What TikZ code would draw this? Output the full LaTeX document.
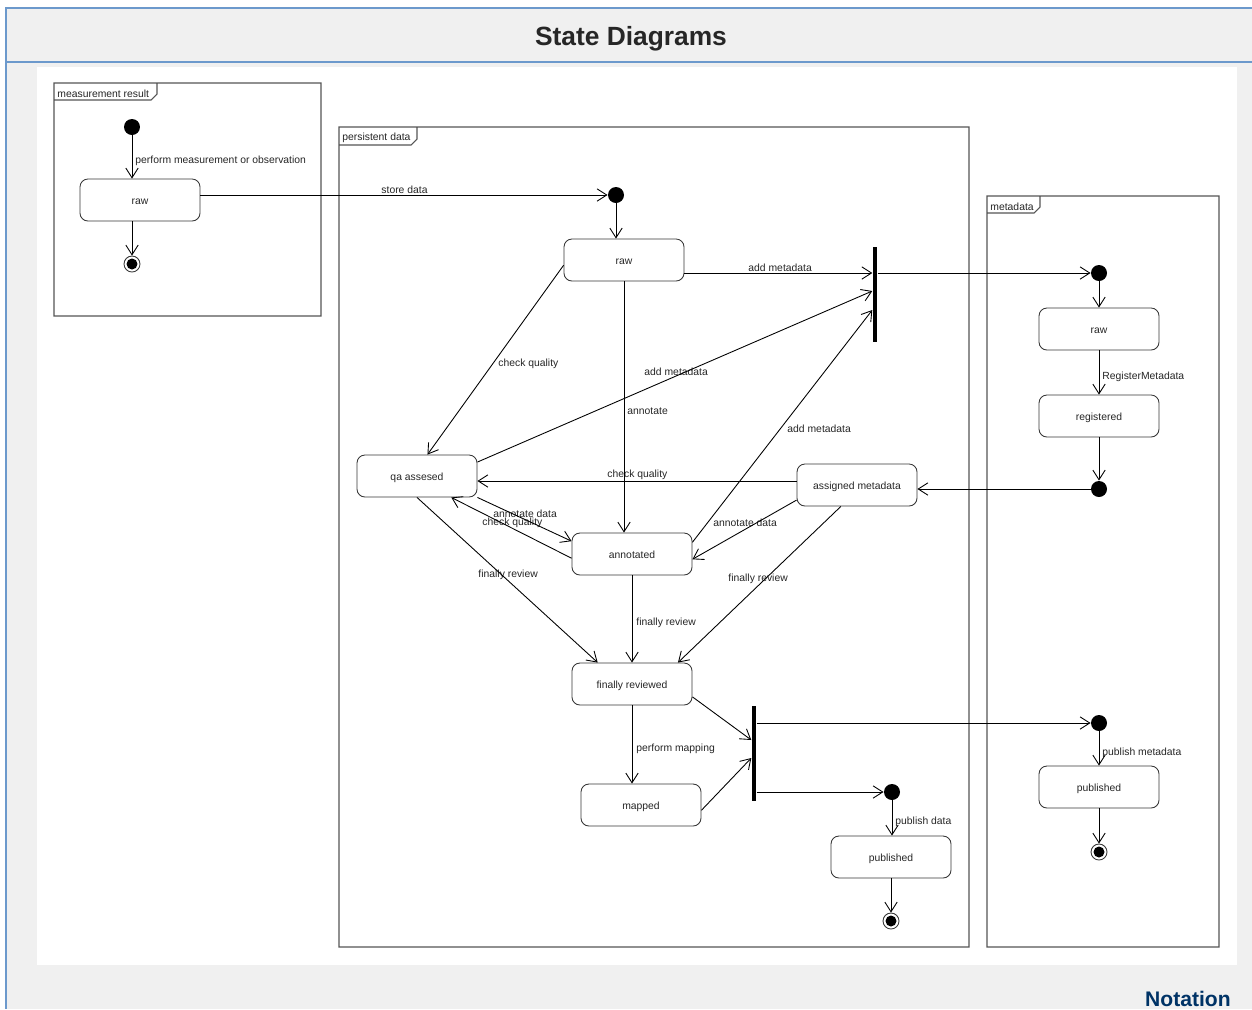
\documentclass[tikz,border=0pt]{standalone}
\usepackage{fontspec}
\setmainfont{Liberation Sans}
\usetikzlibrary{arrows.meta}

\definecolor{pagegray}{RGB}{240,240,240}
\definecolor{rulerblue}{RGB}{108,153,204}
\definecolor{linegray}{RGB}{55,55,55}
\definecolor{framegray}{RGB}{85,85,85}
\definecolor{notationblue}{RGB}{0,51,102}

\begin{document}
\begin{tikzpicture}[x = 0.02cm, y = -0.02cm,
	>={Straight Barb[length = 5.5pt, width = 7pt]},
	every node/.style = {font = \fontsize{5.9}{7}\selectfont, text = black!85},
	every path/.style = {line width = 0.5pt},
	state/.style = {rectangle, rounded corners = 4.5pt, draw = linegray, fill = white, minimum width = 2.4cm, minimum height = 0.84cm, inner sep = 0pt, text height = 6pt, text depth = 0.8pt},
	initial/.style = {circle, fill = black, minimum size = 0.32cm, inner sep = 0pt},
	final/.style = {circle, draw = linegray, fill = white, minimum size = 0.32cm, inner sep = 0pt, path picture = {\fill[black] (path picture bounding box.center) circle (0.11cm);}},
	bar/.style = {rectangle, fill = black, minimum width = 0.09cm, minimum height = 1.9cm, inner sep = 0pt},
	frame/.style = {draw = framegray, line width = 0.6pt},
	tab/.style = {anchor = west, inner sep = 0pt, yshift = -0.8pt},
	lbl/.style = {anchor = west, inner sep = 0pt, yshift = -0.8pt}]
\useasboundingbox (0, 0) rectangle (1252, 1009);

\fill[pagegray]	(6, 8) rectangle (1252, 1009);
\fill[white]	(37, 67) rectangle (1237, 965);
\draw[rulerblue, line width = 1.2pt]	(1252, 8) -- (6, 8) -- (6, 1009)	(6, 62) -- (1252, 62);

\path	(631, 39)		node(title)		[font = \fontsize{15}{18}\selectfont\bfseries]							{State Diagrams}
		(1237, 1006)	node(notation)	[anchor = base east, text = notationblue, font = \fontsize{12}{14}\selectfont\bfseries]	{Notation};

\draw[frame]	(54, 83) rectangle (321, 316)		(54, 100) -- (151, 100) -- (157, 94) -- (157, 83);
\draw[frame]	(339, 127) rectangle (969, 947)	(339, 145) -- (411, 145) -- (417, 139) -- (417, 127);
\draw[frame]	(987, 196) rectangle (1219, 947)	(987, 213) -- (1034, 213) -- (1040, 207) -- (1040, 196);

\path	(57, 92)	node(measurement_tab)	[tab]	{measurement result}
		(342, 136)	node(persistent_tab)	[tab]	{persistent data}
		(990, 205)	node(metadata_tab)		[tab]	{metadata};

\path	(132, 127)	node(mr_initial)		[initial]	{}
		(140, 200)	node(mr_raw)			[state]		{raw}
		(132, 264)	node(mr_final)			[final]		{}
		(616, 195)	node(pd_initial)		[initial]	{}
		(624, 260)	node(pd_raw)			[state]		{raw}
		(417, 476)	node(qa_assesed)		[state]		{qa assesed}
		(632, 554)	node(annotated)			[state]		{annotated}
		(857, 485)	node(assigned_metadata)	[state]		{assigned metadata}
		(632, 684)	node(finally_reviewed)	[state]		{finally reviewed}
		(641, 805)	node(mapped)			[state]		{mapped}
		(892, 792)	node(pd_publish_start)	[initial]	{}
		(891, 857)	node(pd_published)		[state]		{published}
		(891, 921)	node(pd_final)			[final]		{}
		(875, 294)	node(fork_metadata)		[bar]		{}
		(754, 753)	node(fork_publish)		[bar]		{}
		(1099, 273)	node(md_initial)		[initial]	{}
		(1099, 329)	node(md_raw)			[state]		{raw}
		(1099, 416)	node(registered)		[state]		{registered}
		(1099, 489)	node(md_junction)		[initial]	{}
		(1099, 723)	node(md_publish_start)	[initial]	{}
		(1099, 787)	node(md_published)		[state]		{published}
		(1099, 852)	node(md_final)			[final]		{};

\path	(135, 159)	node(lbl_measure)		[lbl]	{perform measurement or observation}
		(381, 188)	node(lbl_store)			[lbl]	{store data}
		(748, 266)	node(lbl_raw_meta)		[lbl]	{add metadata}
		(498, 362)	node(lbl_raw_qa)		[lbl]	{check quality}
		(644, 370)	node(lbl_qa_meta)		[lbl]	{add metadata}
		(627, 410)	node(lbl_annotate)		[lbl]	{annotate}
		(787, 427)	node(lbl_annot_meta)	[lbl]	{add metadata}
		(607, 473)	node(lbl_assigned_qa)	[lbl]	{check quality}
		(493, 512)	node(lbl_qa_annot)		[lbl]	{annotate data}
		(482, 521)	node(lbl_annot_qa)		[lbl]	{check quality}
		(713, 521)	node(lbl_assigned_annot)	[lbl]	{annotate data}
		(478, 573)	node(lbl_qa_final)		[lbl]	{finally review}
		(728, 577)	node(lbl_assigned_final)	[lbl]	{finally review}
		(636, 621)	node(lbl_annot_final)	[lbl]	{finally review}
		(636, 747)	node(lbl_mapping)		[lbl]	{perform mapping}
		(895, 820)	node(lbl_publish_data)	[lbl]	{publish data}
		(1102, 375)	node(lbl_register)		[lbl]	{RegisterMetadata}
		(1102, 751)	node(lbl_publish_meta)	[lbl]	{publish metadata};

\draw[->]	(mr_initial)				--	(mr_initial |- mr_raw.north);
\draw[->]	(mr_raw.south -| mr_initial)	--	(mr_final);
\draw[->]	(mr_raw.east |- pd_initial)	--	(pd_initial);

\draw[->]	(pd_initial)				--	(pd_initial |- pd_raw.north);
\draw[->]	(pd_raw.east |- 0, 273)		--	(fork_metadata.west |- 0, 273);
\draw[->]	(pd_raw.185)				--	(qa_assesed.64);
\draw[->]	(pd_raw.south)				--	(pd_raw.south |- annotated.north);
\draw[->]	(qa_assesed.13)				--	(fork_metadata.west |- 0, 291);
\draw[->]	(annotated.11)				--	(fork_metadata.west |- 0, 310);
\draw[->]	(assigned_metadata.west |- 0, 481)	--	(qa_assesed.east |- 0, 481);
\draw[->]	(qa_assesed.south east)		--	(annotated.168);
\draw[->]	(annotated.184)				--	(qa_assesed.328);
\draw[->]	(assigned_metadata.194)		--	(annotated.355);
\draw[->]	(qa_assesed.south)			--	(finally_reviewed.148);
\draw[->]	(annotated.south)			--	(finally_reviewed.north);
\draw[->]	(assigned_metadata.233)		--	(finally_reviewed.25);
\draw[->]	(finally_reviewed.south)	--	(finally_reviewed.south |- mapped.north);
\draw[->]	(finally_reviewed.348)		--	(fork_publish.west |- 0, 740);
\draw[->]	(mapped.355)				--	(fork_publish.west |- 0, 758);
\draw[->]	(fork_publish.east |- pd_publish_start)	--	(pd_publish_start);
\draw[->]	(pd_publish_start)			--	(pd_published.north -| pd_publish_start);
\draw[->]	(pd_published.south)		--	(pd_final);

\draw[->]	(fork_metadata.east |- md_initial)	--	(md_initial);
\draw[->]	(md_initial)				--	(md_raw);
\draw[->]	(md_raw)					--	(registered);
\draw[->]	(registered)				--	(md_junction);
\draw[->]	(md_junction)				--	(assigned_metadata.east |- md_junction);
\draw[->]	(fork_publish.east |- md_publish_start)	--	(md_publish_start);
\draw[->]	(md_publish_start)			--	(md_published);
\draw[->]	(md_published)				--	(md_final);
\end{tikzpicture}
\end{document}
